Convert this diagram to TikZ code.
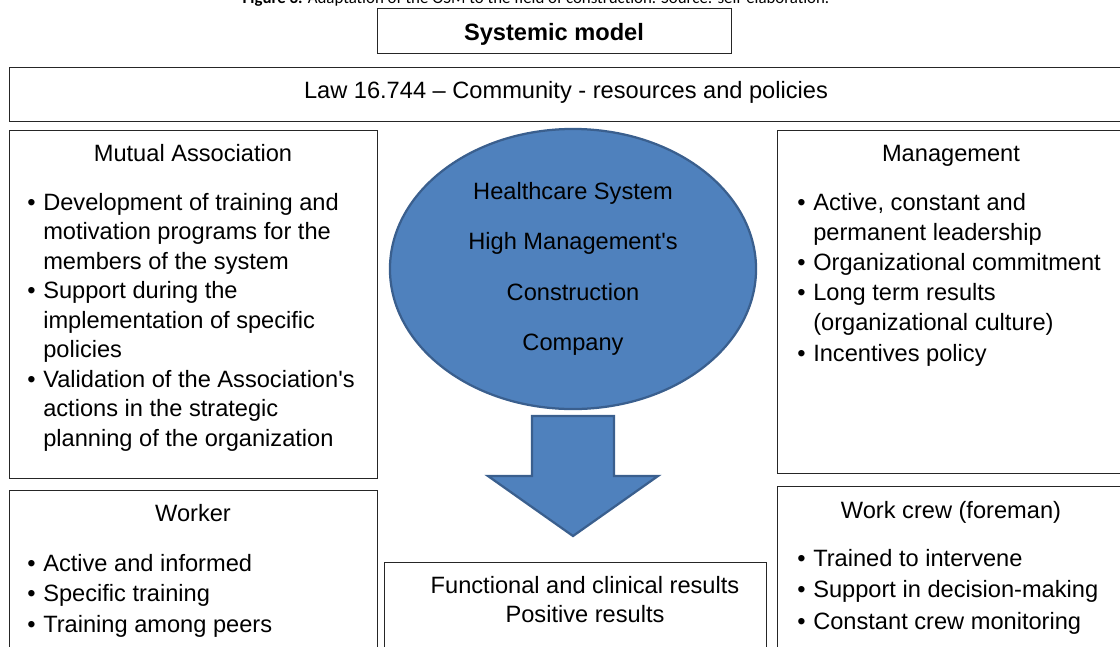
\documentclass[tikz,border=0pt]{standalone}
\usepackage{fontspec}
\setmainfont{Liberation Sans}
\newfontfamily\capfont{Carlito}
\usetikzlibrary{shapes.geometric}
\definecolor{osmblue}{HTML}{4F81BD}
\definecolor{osmedge}{HTML}{3A5F8E}

\begin{document}
\begin{tikzpicture}[x=0.025cm, y=-0.025cm,
  box/.style={draw=black!85, line width=0.8pt, anchor=north west, inner sep=0pt},
  head/.style={font=\fontsize{16.8}{21}\selectfont, anchor=base, inner sep=0pt},
  items/.style={font=\fontsize{16.8}{#1}\selectfont, anchor=base west, inner sep=0pt},
  items/.default=21pt,
  core/.style={ellipse, draw=osmedge, fill=osmblue, line width=1.6pt, minimum width=9.15cm, minimum height=7cm, inner sep=0pt, align=center, font=\fontsize{16.8}{21}\selectfont}]
\useasboundingbox (0,0) rectangle (1120,646);

% caption (runs off the top of the page)
\node[anchor=base, inner sep=0pt, font=\capfont\fontsize{12}{14}\selectfont] (caption) at (536,3) {\textbf{Figure 3.} Adaptation of the OSM to the field of construction. Source: self-elaboration.};

% frame boxes
\node[box, minimum width=8.85cm, minimum height=1.125cm] (title) at (377,8) {};
\node[box, minimum width=28.1cm, minimum height=1.35cm] (law) at (9,67) {};
\node[box, minimum width=9.2cm, minimum height=8.7cm] (mutual) at (9,130) {};
\node[box, minimum width=8.7cm, minimum height=8.575cm] (mgmt) at (777,130) {};
\node[box, minimum width=9.2cm, minimum height=4.4cm] (worker) at (9,490) {};
\node[box, minimum width=8.7cm, minimum height=4.5cm] (crew) at (777,486) {};
\node[box, minimum width=9.55cm, minimum height=2.6cm] (results) at (384,562) {};

% headings
\node[head, font=\bfseries\fontsize{16.8}{21}\selectfont] (titletxt) at (554,40) {Systemic model};
\node[head] (lawtxt) at (566,98) {Law 16.744 -- Community - resources and policies};
\node[head] (mutualtxt) at (193,161) {Mutual Association};
\node[head] (mgmttxt) at (951,161) {Management};
\node[head] (workertxt) at (193,521) {Worker};
\node[head] (crewtxt) at (951,518) {Work crew (foreman)};

% bullet lists
\node[items] (mutuallist) at (27,210) {\begin{tabular}[t]{@{}l@{\hspace{5.5pt}}l@{}}
\textbullet & Development of training and\\
 & motivation programs for the\\
 & members of the system\\
\textbullet & Support during the\\
 & implementation of specific\\
 & policies\\
\textbullet & Validation of the Association\textquotesingle s\\
 & actions in the strategic\\
 & planning of the organization
\end{tabular}};
\node[items=21.5pt] (mgmtlist) at (797,210) {\begin{tabular}[t]{@{}l@{\hspace{5.5pt}}l@{}}
\textbullet & Active, constant and\\
 & permanent leadership\\
\textbullet & Organizational commitment\\
\textbullet & Long term results\\
 & (organizational culture)\\
\textbullet & Incentives policy
\end{tabular}};
\node[items=21.7pt] (workerlist) at (27,571) {\begin{tabular}[t]{@{}l@{\hspace{5.5pt}}l@{}}
\textbullet & Active and informed\\
\textbullet & Specific training\\
\textbullet & Training among peers
\end{tabular}};
\node[items=22.4pt] (crewlist) at (797,566) {\begin{tabular}[t]{@{}l@{\hspace{5.5pt}}l@{}}
\textbullet & Trained to intervene\\
\textbullet & Support in decision-making\\
\textbullet & Constant crew monitoring
\end{tabular}};

% central ellipse and the block arrow below it
\node[core] (system) at (573,269) {Healthcare System\\[14.8pt] High Management\textquotesingle s\\[14.8pt] Construction\\[14.8pt] Company};
\draw[draw=osmedge, fill=osmblue, line width=1.6pt, line join=miter]
  (532,416) -- (614,416) -- (614,476) -- (658,476) -- (573,536) -- (488,476) -- (532,476) -- cycle;

\node[head, align=center, anchor=north] (resultstxt) at (585,576) {Functional and clinical results\\Positive results};
\end{tikzpicture}
\end{document}
